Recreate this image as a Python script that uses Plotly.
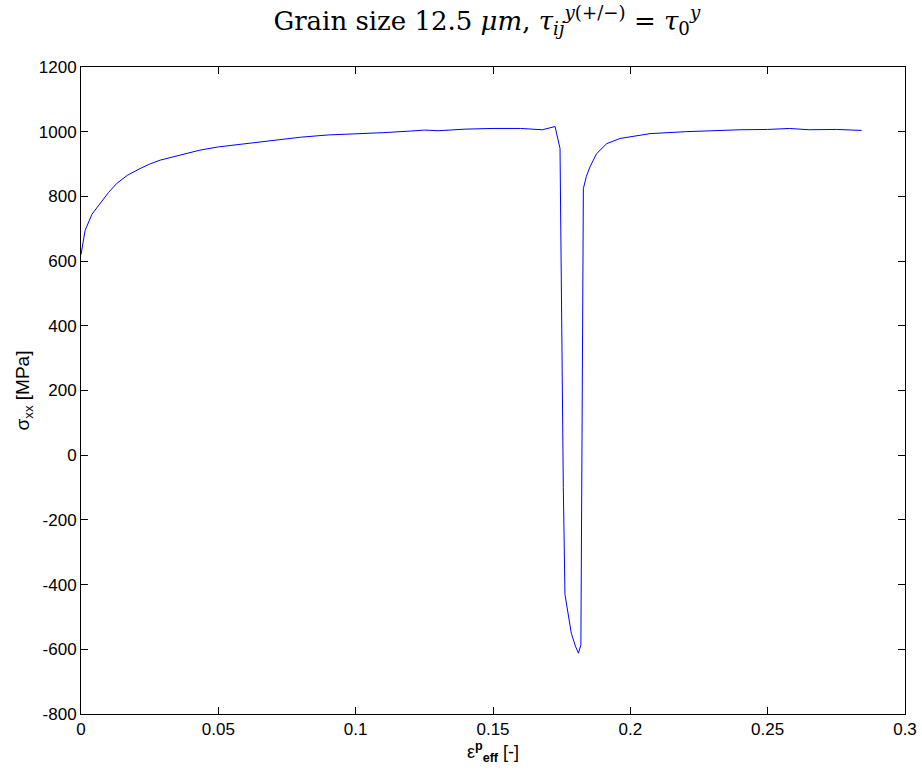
import plotly.graph_objects as go

strain = [0.0, 0.0015, 0.004, 0.0069, 0.010, 0.013, 0.017, 0.0215, 0.025, 0.0288, 0.0336, 0.038,
          0.0433, 0.05, 0.06, 0.07, 0.08, 0.09, 0.10, 0.11, 0.12, 0.125, 0.13, 0.14, 0.15,
          0.16, 0.168, 0.1726, 0.1744, 0.1750, 0.1756, 0.1762, 0.1772, 0.1785, 0.1800, 0.1811,
          0.1820, 0.1822, 0.1825, 0.1829, 0.1840, 0.1853, 0.1877, 0.1914, 0.1962, 0.2072,
          0.22, 0.23, 0.24, 0.25, 0.258, 0.265, 0.275, 0.2842]
stress = [620, 695, 745, 779, 812, 840, 866, 886, 900, 912, 922, 932,
          943, 953, 963, 975, 983, 990, 993, 997, 1002, 1005, 1003, 1008, 1010,
          1010, 1006, 1016, 948, 400, -100, -430, -480, -550, -590, -612,
          -587, -200, 400, 824, 862, 891, 932, 963, 979, 994,
          1000, 1004, 1006, 1007, 1010, 1006, 1007, 1004]

x_ticks = [0, 0.05, 0.1, 0.15, 0.2, 0.25, 0.3]
x_labels = ["0", "0.05", "0.1", "0.15", "0.2", "0.25", "0.3"]
y_ticks = [-800, -600, -400, -200, 0, 200, 400, 600, 800, 1000, 1200]
y_labels = ["-800", "-600", "-400", "-200", "0", "200", "400", "600", "800", "1000", "1200"]

fig = go.Figure()
fig.add_trace(go.Scatter(x=strain, y=stress, mode="lines",
                         line=dict(color="#0000ff", width=1), showlegend=False))

axis_common = dict(showline=True, linecolor="#000", linewidth=1, mirror="ticks",
                   ticks="inside", ticklen=7, tickcolor="#000", showgrid=False, zeroline=False,
                   automargin=False,
                   tickfont=dict(family="Liberation Sans, Arial", size=17, color="#000"))

fig.update_layout(
    width=922, height=784,
    paper_bgcolor="white", plot_bgcolor="white",
    margin=dict(l=81, r=17, t=67, b=70),
    title=dict(text="Grain size 12.5 <i>μm</i>, <i>τ</i><sub><i>ij</i></sub><sup><i>y</i>(+/−)</sup> = <i>τ</i><sub>0</sub><sup><i>y</i></sup>",
               x=0.528, xanchor="center", y=0.962, yanchor="bottom",
               font=dict(family="DejaVu Serif", size=26, color="#000")),
    xaxis=dict(range=[0, 0.3], tickvals=x_ticks, ticktext=x_labels,
               title=dict(text="ε<sup><b>p</b></sup><sub><b>eff</b></sub> [-]", standoff=2,
                          font=dict(family="Liberation Sans, Arial", size=18, color="#000")),
               **axis_common),
    yaxis=dict(range=[-800, 1200], tickvals=y_ticks, ticktext=y_labels,
               title=dict(text="σ<sub>xx</sub> [MPa]", standoff=4,
                          font=dict(family="Liberation Sans, Arial", size=19, color="#000")),
               **axis_common),
)

fig.write_html("out.html", config={"displayModeBar": False},
               post_script="document.body.style.margin='0';document.body.style.overflow='hidden';")
